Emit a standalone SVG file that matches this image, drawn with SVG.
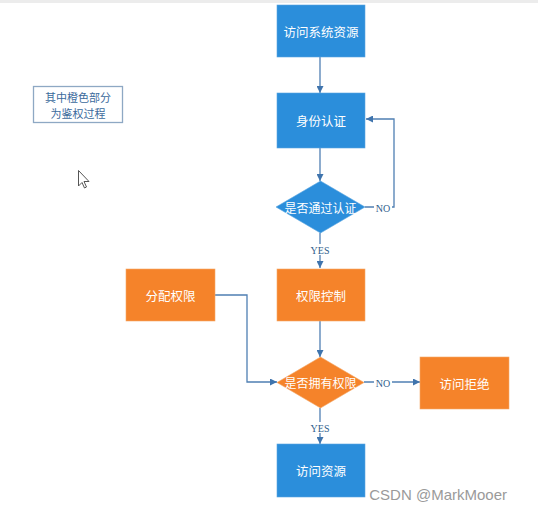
<svg xmlns="http://www.w3.org/2000/svg" width="538" height="513" viewBox="0 0 538 513">
<style>
.blue{fill:#2b8edb;stroke:#5aa6e0;stroke-width:0.6}
.orange{fill:#f5832a;stroke:#f4a868;stroke-width:0.6}
.t{font-family:"Noto Sans CJK SC","Noto Sans",sans-serif;font-size:12.5px;fill:#ffffff;text-anchor:middle;dominant-baseline:central}
.dt{font-size:12px}
.c{fill:none;stroke:#4f7fb3;stroke-width:1.3}
.lbl{font-family:"Liberation Serif","DejaVu Serif",serif;font-size:10px;fill:#2f5d8c;text-anchor:middle;dominant-baseline:central}
.note{font-family:"Noto Sans CJK SC",sans-serif;font-size:11px;fill:#3b6a9c;text-anchor:middle;dominant-baseline:central}
</style>
<defs>
<marker id="ah" viewBox="0 0 10 10" refX="10" refY="5" markerWidth="7" markerHeight="7" orient="auto" markerUnits="userSpaceOnUse">
<path d="M0,0 L10,5 L0,10 z" fill="#3f74ad"/>
</marker>
</defs>
<rect x="0" y="0" width="538" height="513" fill="#ffffff"/>
<rect x="0" y="0" width="538" height="3" fill="#ececec"/>

<g id="connectors">
<path class="c" d="M320,57 V93" marker-end="url(#ah)"/>
<path class="c" d="M320,148 V181" marker-end="url(#ah)"/>
<path class="c" d="M365,207 H394 V119 H366" marker-end="url(#ah)"/>
<path class="c" d="M320,233 V268" marker-end="url(#ah)"/>
<path class="c" d="M320,321 V357" marker-end="url(#ah)"/>
<path class="c" d="M215,295 H247 V382 H277" marker-end="url(#ah)"/>
<path class="c" d="M364,382 H420" marker-end="url(#ah)"/>
<path class="c" d="M320,408 V444" marker-end="url(#ah)"/>
<rect x="374" y="202" width="18" height="11" fill="#ffffff"/>
<text class="lbl" x="383" y="208">NO</text>
<rect x="308" y="244" width="24" height="11" fill="#ffffff"/>
<text class="lbl" x="320" y="250">YES</text>
<rect x="374" y="377" width="18" height="11" fill="#ffffff"/>
<text class="lbl" x="383" y="383">NO</text>
<rect x="308" y="422" width="24" height="11" fill="#ffffff"/>
<text class="lbl" x="320" y="428">YES</text>
</g>

<g id="n1"><rect class="blue" x="277" y="5" width="88" height="52"/><text class="t" x="321" y="31">访问系统资源</text></g>
<g id="n2"><rect class="blue" x="277" y="93" width="88" height="55"/><text class="t" x="321" y="120">身份认证</text></g>
<g id="d1"><polygon class="blue" points="320.5,181 365,207 320.5,233 276,207"/><text class="t dt" x="320.5" y="207">是否通过认证</text></g>
<g id="n3"><rect class="orange" x="277" y="269" width="88" height="52"/><text class="t" x="321" y="295">权限控制</text></g>
<g id="n4"><rect class="orange" x="126" y="269" width="89" height="52"/><text class="t" x="170.5" y="295">分配权限</text></g>
<g id="d2"><polygon class="orange" points="320.5,357 364,382.5 320.5,408 277,382.5"/><text class="t dt" x="320.5" y="382.5">是否拥有权限</text></g>
<g id="n5"><rect class="orange" x="420" y="357" width="89" height="52"/><text class="t" x="464.5" y="383">访问拒绝</text></g>
<g id="n6"><rect class="blue" x="277" y="444" width="88" height="53"/><text class="t" x="321" y="470">访问资源</text></g>

<g id="note">
<rect x="33.5" y="86.5" width="89" height="36" fill="#ffffff" stroke="#8ea8c4" stroke-width="1.3"/>
<text class="note" x="78" y="96.5">其中橙色部分</text>
<text class="note" x="78" y="112.5">为鉴权过程</text>
</g>

<polygon points="78.5,170.5 78.5,186 82,182.5 84.5,188 86.5,187 84,181.5 89,181.5" fill="#ffffff" stroke="#555555" stroke-width="1"/>

<text x="507" y="500" font-family="Liberation Sans,Arial,sans-serif" font-size="15" fill="#9a9a9a" text-anchor="end">CSDN @MarkMooer</text>
</svg>
